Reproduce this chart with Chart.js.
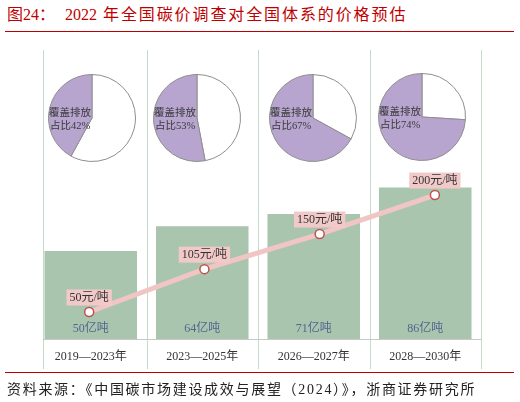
<!DOCTYPE html>
<html><head><meta charset="utf-8">
<script src="https://cdn.jsdelivr.net/npm/chart.js@4.4.0/dist/chart.umd.min.js"></script>
<style>
html,body{margin:0;padding:0;background:#fff;}
#wrap{position:relative;width:520px;height:402px;overflow:hidden;font-family:"Liberation Serif","Noto Sans CJK SC",serif;}
#title{position:absolute;left:7px;top:4px;font-size:16px;color:#c00000;white-space:nowrap;line-height:22px;}
.rule{position:absolute;left:5px;width:509px;height:1px;background:#c00000;}
#src{position:absolute;left:7px;top:380px;font-size:14px;color:#222;white-space:nowrap;line-height:20px;letter-spacing:1.7px;}
#main{position:absolute;left:0;top:0;}
.pie{position:absolute;}
</style></head><body>
<div id="wrap">
<div id="title"><span>图24：</span><span style="margin-left:10px">2022</span><span style="margin-left:6px;letter-spacing:1.9px">年全国碳价调查对全国体系的价格预估</span></div>
<div class="rule" style="top:31px"></div>
<canvas id="main" width="520" height="402"></canvas>
<div class="rule" style="top:372px"></div>
<div id="src">资料来源：《中国碳市场建设成效与展望（2024）》，浙商证券研究所</div>
</div>
<script>
// ---- data ----
const categories = ['2019—2023年','2023—2025年','2026—2027年','2028—2030年'];
const emissions = [50, 64, 71, 86];      // 亿吨
const prices = [50, 105, 150, 200];      // 元/吨
const coverage = [42, 53, 67, 74];       // 覆盖排放占比 %
const emissionLabels = emissions.map(v => v + '亿吨');
const priceLabels = prices.map(v => v + '元/吨');
const coverageTitle = '覆盖排放';
const coverageLabels = coverage.map(v => '占比' + v + '%');

// ---- layout (not data) ----
const pieCenters = [[92,118],[197,118],[313,118],[421.5,116.5]];
const FONT = '"Liberation Serif","Noto Sans CJK SC",serif';

const decor = {
  id: 'decor',
  beforeDatasetsDraw(chart) {
    const ctx = chart.ctx, x = chart.scales.x, y = chart.scales.y, a = chart.chartArea;
    const step = x.getPixelForValue(1) - x.getPixelForValue(0);
    const b0 = x.getPixelForValue(0) - step / 2;
    ctx.save();
    ctx.strokeStyle = '#c4dbc9';
    ctx.lineWidth = 1;
    for (let k = 0; k <= categories.length; k++) {
      let bx = b0 + k * step;
      if (k === 0) bx += 8;
      bx = Math.round(bx) + 0.5;
      ctx.beginPath(); ctx.moveTo(bx, a.top); ctx.lineTo(bx, a.bottom + 30); ctx.stroke();
    }
    const base = Math.round(y.getPixelForValue(0)) + 0.5;
    ctx.strokeStyle = '#c8c8c8';
    ctx.beginPath(); ctx.moveTo(b0 + 8, base); ctx.lineTo(b0 + categories.length * step, base); ctx.stroke();
    ctx.restore();
  },
  afterDatasetsDraw(chart) {
    const ctx = chart.ctx, x = chart.scales.x, a = chart.chartArea;
    ctx.save();
    ctx.textAlign = 'center';
    ctx.textBaseline = 'middle';
    // category labels
    ctx.font = '12px ' + FONT;
    ctx.fillStyle = '#333333';
    categories.forEach((c, i) => ctx.fillText(c, x.getPixelForValue(i), a.bottom + 18));
    // bar value labels
    ctx.fillStyle = '#56638f';
    emissionLabels.forEach((t, i) => ctx.fillText(t, x.getPixelForValue(i), a.bottom - 10));
    // price labels
    const meta = chart.getDatasetMeta(1);
    meta.data.forEach((pt, i) => {
      const t = priceLabels[i];
      const w = ctx.measureText(t).width + 6;
      const h = 16;
      const bottom = pt.y - 6.5;
      ctx.fillStyle = '#f2c9c9';
      ctx.fillRect(pt.x - w / 2, bottom - h, w, h);
      ctx.fillStyle = '#333333';
      ctx.fillText(t, pt.x, bottom - h / 2 + 0.5);
    });
    ctx.restore();
  }
};

new Chart(document.getElementById('main'), {
  type: 'bar',
  data: {
    labels: categories,
    datasets: [
      {
        type: 'bar', label: '排放量', data: emissions,
        xAxisID: 'x', yAxisID: 'y',
        backgroundColor: '#a9c5ae', grouped: false,
        barPercentage: 0.83, categoryPercentage: 1, order: 2
      },
      {
        type: 'line', label: '碳价', data: prices.map((v, i) => ({x: i, y: v})),
        xAxisID: 'x2', yAxisID: 'y2',
        borderColor: '#f2c5c5', borderWidth: 5,
        pointRadius: 4.5, pointBackgroundColor: '#ffffff',
        pointBorderColor: '#c0504d', pointBorderWidth: 1.5,
        tension: 0, order: 1
      }
    ]
  },
  options: {
    responsive: false, animation: false,
    layout: {padding: {left: 35, right: 39, top: 50, bottom: 63}},
    plugins: {legend: {display: false}, tooltip: {enabled: false}},
    scales: {
      x: {type: 'category', display: false, offset: true},
      y: {type: 'linear', display: false, min: 0, max: 164},
      x2: {type: 'linear', display: false, offset: false, bounds: 'ticks', min: -0.47, max: 3.4, grid: {offset: false}},
      y2: {type: 'linear', display: false, min: 15.4, max: 386}
    }
  },
  plugins: [decor]
});

// pies
const wrap = document.getElementById('wrap');
coverage.forEach((c, i) => {
  const [cx, cy] = pieCenters[i];
  const cv = document.createElement('canvas');
  cv.width = 90; cv.height = 90; cv.className = 'pie';
  cv.style.left = (cx - 45) + 'px'; cv.style.top = (cy - 45) + 'px';
  wrap.appendChild(cv);
  const lbl = {
    id: 'pielbl' + i,
    afterDatasetsDraw(chart) {
      const ctx = chart.ctx;
      ctx.save();
      ctx.font = '10.5px ' + FONT;
      ctx.fillStyle = '#3a3a3a';
      ctx.textAlign = 'center';
      ctx.textBaseline = 'middle';
      ctx.fillText(coverageTitle, 45 - 22, 45 - 5);
      ctx.fillText(coverageLabels[i], 45 - 22, 45 + 8);
      ctx.restore();
    }
  };
  new Chart(cv, {
    type: 'pie',
    data: {
      labels: ['未覆盖', '覆盖排放'],
      datasets: [{
        data: [100 - c, c],
        backgroundColor: ['#ffffff', '#b7a5cf'],
        borderColor: '#8e8e8e', borderWidth: 1
      }]
    },
    options: {
      responsive: false, animation: false,
      layout: {padding: 1},
      plugins: {legend: {display: false}, tooltip: {enabled: false}}
    },
    plugins: [lbl]
  });
});
</script>
</body></html>
